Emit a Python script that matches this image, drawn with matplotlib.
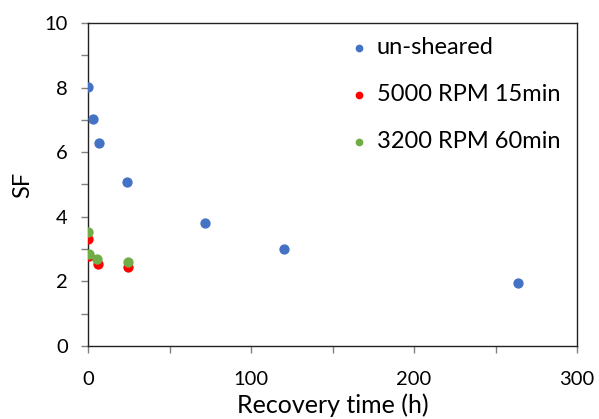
import matplotlib
matplotlib.use("Agg")
import matplotlib.pyplot as plt
from matplotlib.ticker import MultipleLocator

unsheared_t = [0, 3, 7, 24, 72, 120, 264]
unsheared_sf = [8.03, 7.03, 6.27, 5.07, 3.81, 3.01, 1.94]
rpm5000_t = [0, 0.5, 6.3, 24.5]
rpm5000_sf = [3.31, 2.80, 2.54, 2.44]
rpm3200_t = [0.3, 0.8, 5.3, 24.5]
rpm3200_sf = [3.52, 2.86, 2.69, 2.59]

plt.rcParams['font.family'] = ['Lato', 'DejaVu Sans']

fig = plt.figure(figsize=(5.99, 4.19), dpi=100)
ax = fig.add_axes([88/599, 1-346/419, (577-88)/599, (346-23)/419])

s = 55
ax.scatter(unsheared_t, unsheared_sf, s=s, color='#4472C4', label='un-sheared', zorder=3, linewidths=0)
ax.scatter(rpm5000_t, rpm5000_sf, s=s, color='#FF0000', label='5000 RPM 15min', zorder=3, linewidths=0)
ax.scatter(rpm3200_t, rpm3200_sf, s=s, color='#70AD47', label='3200 RPM 60min', zorder=4, linewidths=0)

ax.set_xlim(0, 300)
ax.set_ylim(0, 10)
ax.xaxis.set_major_locator(MultipleLocator(100))
ax.xaxis.set_minor_locator(MultipleLocator(50))
ax.yaxis.set_major_locator(MultipleLocator(2))
ax.yaxis.set_minor_locator(MultipleLocator(1))
ax.tick_params(which='both', direction='out', length=5, width=1, color='#808080', labelsize=14.5)
ax.tick_params(axis='y', pad=9.5)
ax.tick_params(axis='x', pad=13)
for sp in ax.spines.values():
    sp.set_linewidth(1.0)
    sp.set_color('#222222')

ax.set_xlabel('Recovery time (h)', fontsize=18, labelpad=4)
ax.set_ylabel('SF', fontsize=17, labelpad=8)

leg = ax.legend(loc='upper right', frameon=False, fontsize=17, markerscale=0.75,
                labelspacing=1.1, handlelength=0.8, handletextpad=0.35, borderaxespad=0.2,
                bbox_to_anchor=(0.995, 1.0))

fig.savefig('out.png', dpi=100)
